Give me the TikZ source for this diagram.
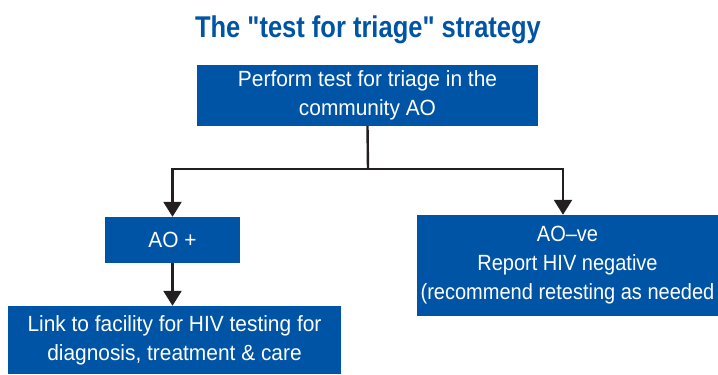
\documentclass[tikz,border=0pt]{standalone}
\usepackage{fontspec}
\setmainfont{Liberation Sans}[FakeStretch=0.95]
\newfontfamily\titlefont{Liberation Sans}[Ligatures=TeXOff, BoldFeatures={FakeStretch=0.85}]
\newfontfamily\narrowfont{Liberation Sans}[FakeStretch=0.91]
\usetikzlibrary{arrows.meta}

\definecolor{triageblue}{RGB}{0,84,165}
\definecolor{linkline}{RGB}{35,31,32}

\tikzset{
  stepbox/.style={fill=triageblue, text=white, inner sep=0pt, align=center,
    font=\fontsize{22}{29}\selectfont},
  flow/.style={draw=linkline, line width=2.4pt},
}

\begin{document}
\begin{tikzpicture}[x=1pt, y=-1pt, >={Triangle[width=18pt,length=15pt]}]
            \useasboundingbox (0,0) rectangle (718,375);
            \node[text=triageblue, font=\titlefont\bfseries\fontsize{30}{36}\selectfont] (title) at (368,30) {The "test for triage" strategy};

            \node[stepbox, minimum width=341pt, minimum height=61pt] (test) at (367.5,95.5) {Perform test for triage in the\\community AO};
            \node[stepbox, minimum width=135pt, minimum height=46pt] (aopos) at (172.5,240) {AO +};
            \node[stepbox, font=\narrowfont\fontsize{22}{29}\selectfont, minimum width=301pt, minimum height=101pt] (aoneg) at (567.5,265.5) {AO–ve\\Report HIV negative\\(recommend retesting as needed};
            \node[stepbox, minimum width=333pt, minimum height=68pt] (facility) at (174.5,340) {Link to facility for HIV testing for\\diagnosis, treatment \& care};

            \coordinate (fork) at (368,169);
            \draw[flow] (test.south) -- (fork);
            \draw[flow, ->] (fork) -| (aopos.north);
            \draw[flow, ->] (fork) -| ([xshift=-4.5pt]aoneg.north);
            \draw[flow, ->] (aopos.south) -- (aopos.south |- facility.north);
        \end{tikzpicture}
\end{document}
